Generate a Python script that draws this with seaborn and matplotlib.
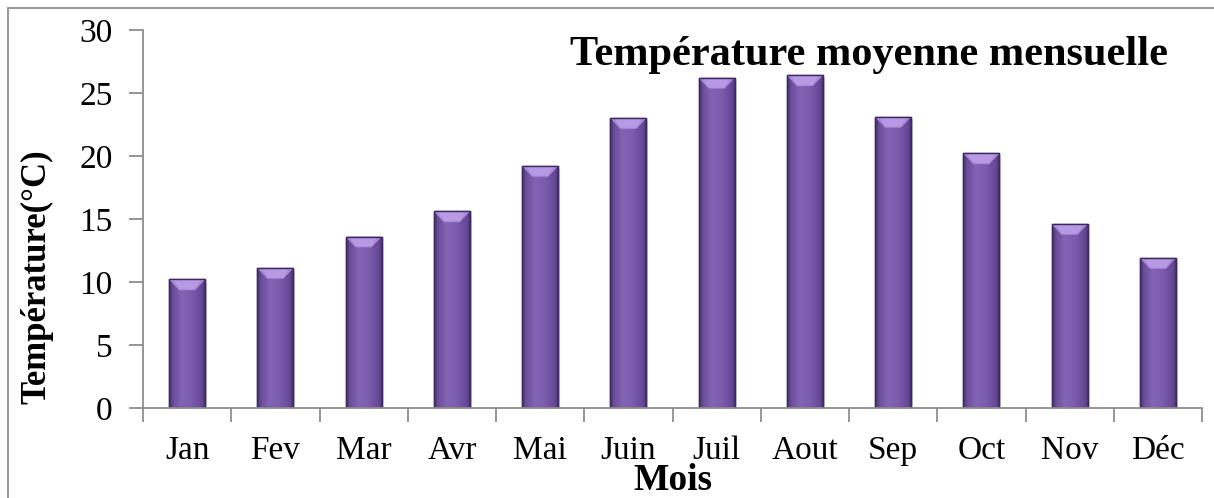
import numpy as np
import pandas as pd
import matplotlib
matplotlib.use("Agg")
import matplotlib.pyplot as plt
from matplotlib.colors import LinearSegmentedColormap
from matplotlib.patches import Polygon
from matplotlib.lines import Line2D
import seaborn as sns

months = ["Jan", "Fev", "Mar", "Avr", "Mai", "Juin", "Juil", "Aout", "Sep", "Oct", "Nov", "Déc"]
temperature = [10.2, 11.1, 13.6, 15.6, 19.2, 23.0, 26.2, 26.4, 23.1, 20.2, 14.6, 11.9]
y_ticks = [0, 5, 10, 15, 20, 25, 30]

sns.set_theme(style="white")
plt.rcParams["font.family"] = ["Liberation Serif", "DejaVu Serif"]
plt.rcParams["text.color"] = "black"

fig = plt.figure(figsize=(12.14, 4.98), dpi=100)
ax = fig.add_axes([143 / 1214, 1 - 408 / 498, (1202 - 143) / 1214, (408 - 30) / 498])

df = pd.DataFrame({"Mois": months, "Temp": temperature})
sns.barplot(data=df, x="Mois", y="Temp", color="#7d5cae", width=0.41,
            saturation=1, ax=ax, edgecolor="#3b2960", linewidth=1.0, zorder=2)

# horizontal shading across each bar: dark rims, lighter body
shade = LinearSegmentedColormap.from_list(
    "bar_shade",
    [(0.00, "#3e2b63"), (0.10, "#6a4c98"), (0.35, "#8464b6"),
     (0.60, "#7d5cae"), (0.90, "#654795"), (1.00, "#3e2b63")])
grad = np.linspace(0, 1, 256).reshape(1, -1)

for bar in list(ax.patches):
    x0, w, h = bar.get_x(), bar.get_width(), bar.get_height()
    # soft shadow to the lower right
    shadow = plt.Rectangle((x0 + 0.02, 0), w, h - 0.25, facecolor="#000000",
                           alpha=0.10, edgecolor="none", zorder=1.5)
    ax.add_patch(shadow)
    im = ax.imshow(grad, cmap=shade, aspect="auto", extent=(x0, x0 + w, 0, h),
                   zorder=2.1, interpolation="bicubic")
    im.set_clip_path(bar)
    # bevelled top face
    bev_h = 0.85
    inset = w * 0.28
    top = Polygon([(x0, h), (x0 + w, h), (x0 + w - inset, h - bev_h), (x0 + inset, h - bev_h)],
                  closed=True, facecolor="#a98ad8", edgecolor="none", zorder=2.2)
    ax.add_patch(top)
    top_hi = Polygon([(x0 + w * 0.12, h), (x0 + w * 0.88, h), (x0 + w - inset, h - bev_h * 0.9),
                      (x0 + inset, h - bev_h * 0.9)],
                     closed=True, facecolor="#b79ae3", edgecolor="none", zorder=2.25)
    ax.add_patch(top_hi)
    outline = plt.Rectangle((x0, 0), w, h, facecolor="none", edgecolor="#3b2960",
                            linewidth=1.0, zorder=2.3)
    ax.add_patch(outline)

ax.set_ylim(0, 30)
ax.set_xlim(-0.5, len(months) - 0.5)
ax.set_yticks(y_ticks)
ax.set_yticklabels([str(v) for v in y_ticks])

for side in ["top", "right"]:
    ax.spines[side].set_visible(False)
for side in ["left", "bottom"]:
    ax.spines[side].set_color("#8c8c8c")
    ax.spines[side].set_linewidth(1.3)

# category-boundary ticks on the x axis
ax.set_xticks(np.arange(len(months)))
ax.set_xticklabels(months)
ax.tick_params(axis="x", length=0, pad=20, labelsize=24, colors="black")
ax.set_xticks(np.arange(len(months) + 1) - 0.5, minor=True)
ax.tick_params(axis="x", which="minor", length=10, width=1.3, color="#8c8c8c", direction="out", bottom=True)
ax.tick_params(axis="y", length=10, width=1.3, color="#8c8c8c", direction="out", left=True,
               labelsize=24, pad=12, colors="black")

ax.set_xlabel("Mois", fontsize=27, fontweight="bold", color="black")
ax.xaxis.label.set_va("center")
ax.xaxis.set_label_coords(0.5, -0.192)
ax.set_ylabel("Température(°C)", fontsize=25, fontweight="bold", color="black")
ax.yaxis.label.set_va("center")
ax.yaxis.set_label_coords(-0.1, 0.347)
ax.text(0.686, 0.935, "Température moyenne mensuelle", transform=ax.transAxes,
        ha="center", va="center", fontsize=30.5, fontweight="bold", color="black")

# chart frame
fig.add_artist(Line2D([8 / 1214, 1], [1 - 8 / 498, 1 - 8 / 498], transform=fig.transFigure,
                      color="#9a9a9a", linewidth=1.5))
fig.add_artist(Line2D([8 / 1214, 8 / 1214], [0, 1 - 8 / 498], transform=fig.transFigure,
                      color="#9a9a9a", linewidth=1.5))

fig.savefig("out.png", dpi=100)
